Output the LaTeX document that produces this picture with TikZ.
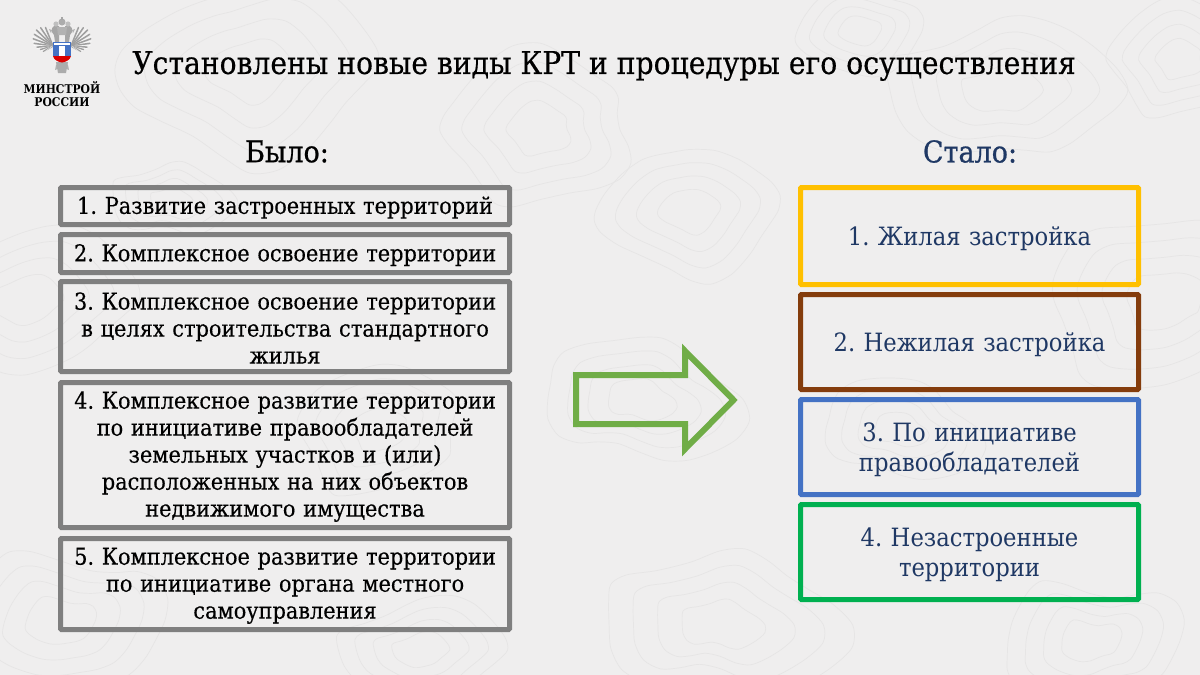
\documentclass[tikz,border=0pt]{standalone}
\usepackage{fontspec}
\setmainfont{DejaVu Serif Condensed}
\newfontfamily\semi[FakeBold=0.35]{DejaVu Serif Condensed}
\newfontfamily\semib[FakeBold=0.7]{DejaVu Serif Condensed}
\definecolor{bgc}{HTML}{EFEEEE}
\definecolor{cont}{HTML}{E6E5E5}
\definecolor{greyb}{HTML}{7F7F7F}
\definecolor{navy}{HTML}{1F3864}
\definecolor{yel}{HTML}{FFC000}
\definecolor{brn}{HTML}{843C0C}
\definecolor{blu}{HTML}{4472C4}
\definecolor{grn}{HTML}{00B050}
\definecolor{arr}{HTML}{70AD47}
\tikzset{
 oldbox/.style={draw=greyb,line width=5pt,rounded corners=1pt,minimum width=449pt,align=center,inner sep=0pt,text width=440pt,font=\semi\fontsize{23.2}{27}\selectfont\frenchspacing,anchor=north west,execute at begin node={\rule{0pt}{20.5pt}}},
 newbox/.style={line width=5pt,rounded corners=1pt,minimum width=338pt,align=center,inner sep=0pt,text width=320pt,text=navy,font=\fontsize{25.2}{30}\selectfont\frenchspacing,anchor=north west,execute at begin node={\rule{0pt}{25pt}}},
 head/.style={font=\semib\fontsize{30}{32}\selectfont},
 contour/.style={draw=cont,line width=0.7pt},
}
\begin{document}
\begin{tikzpicture}[x=1pt,y=-1pt]
\useasboundingbox (0,0) rectangle (1200,675);
\fill[bgc] (0,0) rectangle (1200,675);
% background contours
\foreach \cx/\cy/\r/\p in {640/400/75/20,1000/90/85/70,250/70/95/130,60/620/85/200,1165/300/100/260,
 540/130/80/310,720/625/90/40,25/300/80/100,690/210/70/160,1090/640/75/220,380/430/70/280,900/430/60/10,
 420/650/60/90,860/30/50/180,1180/60/60/300,170/200/45/50}{
 \foreach \k in {1,0.78,0.56,0.34}{
  \draw[contour] plot[smooth cycle,domain=0:345,samples=24,variable=\t]
   ({\cx+\k*\r*(1.25+0.16*sin(2*\t+\p)+0.09*sin(3*\t+2*\p)+0.05*sin(5*\t+\p))*cos(\t)},
    {\cy+\k*\r*(0.85+0.13*sin(2*\t+2*\p)+0.1*sin(3*\t-\p)+0.05*sin(5*\t+3*\p))*sin(\t)});
 }}
% logo
\foreach \s in {1,-1}{
 \begin{scope}[shift={(62,0)},xscale=\s]
  \foreach \a/\l in {-68/20,-56/22,-44/23,-32/22,-20/21,-8/19,4/16,16/13,30/11}{
   \draw[gray!75,line width=1.5pt,line cap=round] (9,46) -- +({\l*cos(\a)},{\l*sin(\a)});
   \draw[white,line width=.3pt] (9.5,46) -- +({\l*cos(\a+6)},{\l*sin(\a+6)});
  }
  \fill[gray!70] (3,26) -- (8,26) .. controls (11,28) and (11,32) .. (8,35) -- (7,42) -- (3,42) -- cycle;
  \fill[gray!60] (10,30) -- (13,29) -- (11,33) -- cycle;
  \fill[gray!60] (2,62) -- (6,65) -- (7,70) -- (2,68) -- cycle;
  \fill[gray!50] (6,24) circle (2.6);
 \end{scope}}
\fill[gray!60] (57,27) -- (67,27) -- (66,35) -- (58,35) -- cycle;
\fill[gray!65] (62,22) circle (3.5);
\fill[gray!70] (61.2,16.5) rectangle (62.8,20);
\fill[gray!65] (56,62) -- (68,62) -- (66,73) -- (58,73) -- cycle;
\fill[blu] (53,42) -- (71,42) -- (71,56) -- (53,56) -- cycle;
\fill[white] (54,43) rectangle (70,45);
\fill[white] (59,46) rectangle (65,56);
\fill[red!85!black] (53,56) -- (71,56) .. controls (70,60) and (66,62) .. (62,62.5) .. controls (58,62) and (54,60) .. (53,56) -- cycle;
\node[font=\bfseries\fontsize{12}{13}\selectfont,align=center,inner sep=0pt] (logo) at (62,94.5) {МИНСТРОЙ\\РОССИИ};
% title
\node[font=\semi\fontsize{31.35}{36}\selectfont,inner sep=0pt] (title) at (604,66) {Установлены новые виды КРТ и процедуры его осуществления};
\node[head] (was) at (287,151.5) {Было:};
\node[head,text=navy] (now) at (970,151.5) {Стало:};
% left boxes
\node[oldbox,minimum height=37pt] (o1) at (58,185) {1. Развитие застроенных территорий};
\node[oldbox,minimum height=38pt] (o2) at (58,232) {2. Комплексное освоение территории};
\node[oldbox,minimum height=90pt] (o3) at (58,279) {3. Комплексное освоение территории\\в целях строительства стандартного\\жилья};
\node[oldbox,minimum height=145pt] (o4) at (58,380) {4. Комплексное развитие территории\\по инициативе правообладателей\\земельных участков и (или)\\расположенных на них объектов\\недвижимого имущества};
\node[oldbox,minimum height=91pt] (o5) at (58,536) {5. Комплексное развитие территории\\по инициативе органа местного\\самоуправления};
% right boxes
\node[newbox,draw=yel,minimum height=97pt] (n1) at (798,185) {1. Жилая застройка};
\node[newbox,draw=brn,minimum height=95pt] (n2) at (798,292) {2. Нежилая застройка};
\node[newbox,draw=blu,minimum height=95pt] (n3) at (798,397) {3. По инициативе\\правообладателей};
\node[newbox,draw=grn,minimum height=95pt] (n4) at (798,502) {4. Незастроенные\\территории};
% arrow
\draw[arr,line width=6pt,miter limit=10] (576,375) -- (685,375) -- (685,351) -- (733.5,400) -- (685,449) -- (685,424) -- (576,424) -- cycle;
\end{tikzpicture}
\end{document}
